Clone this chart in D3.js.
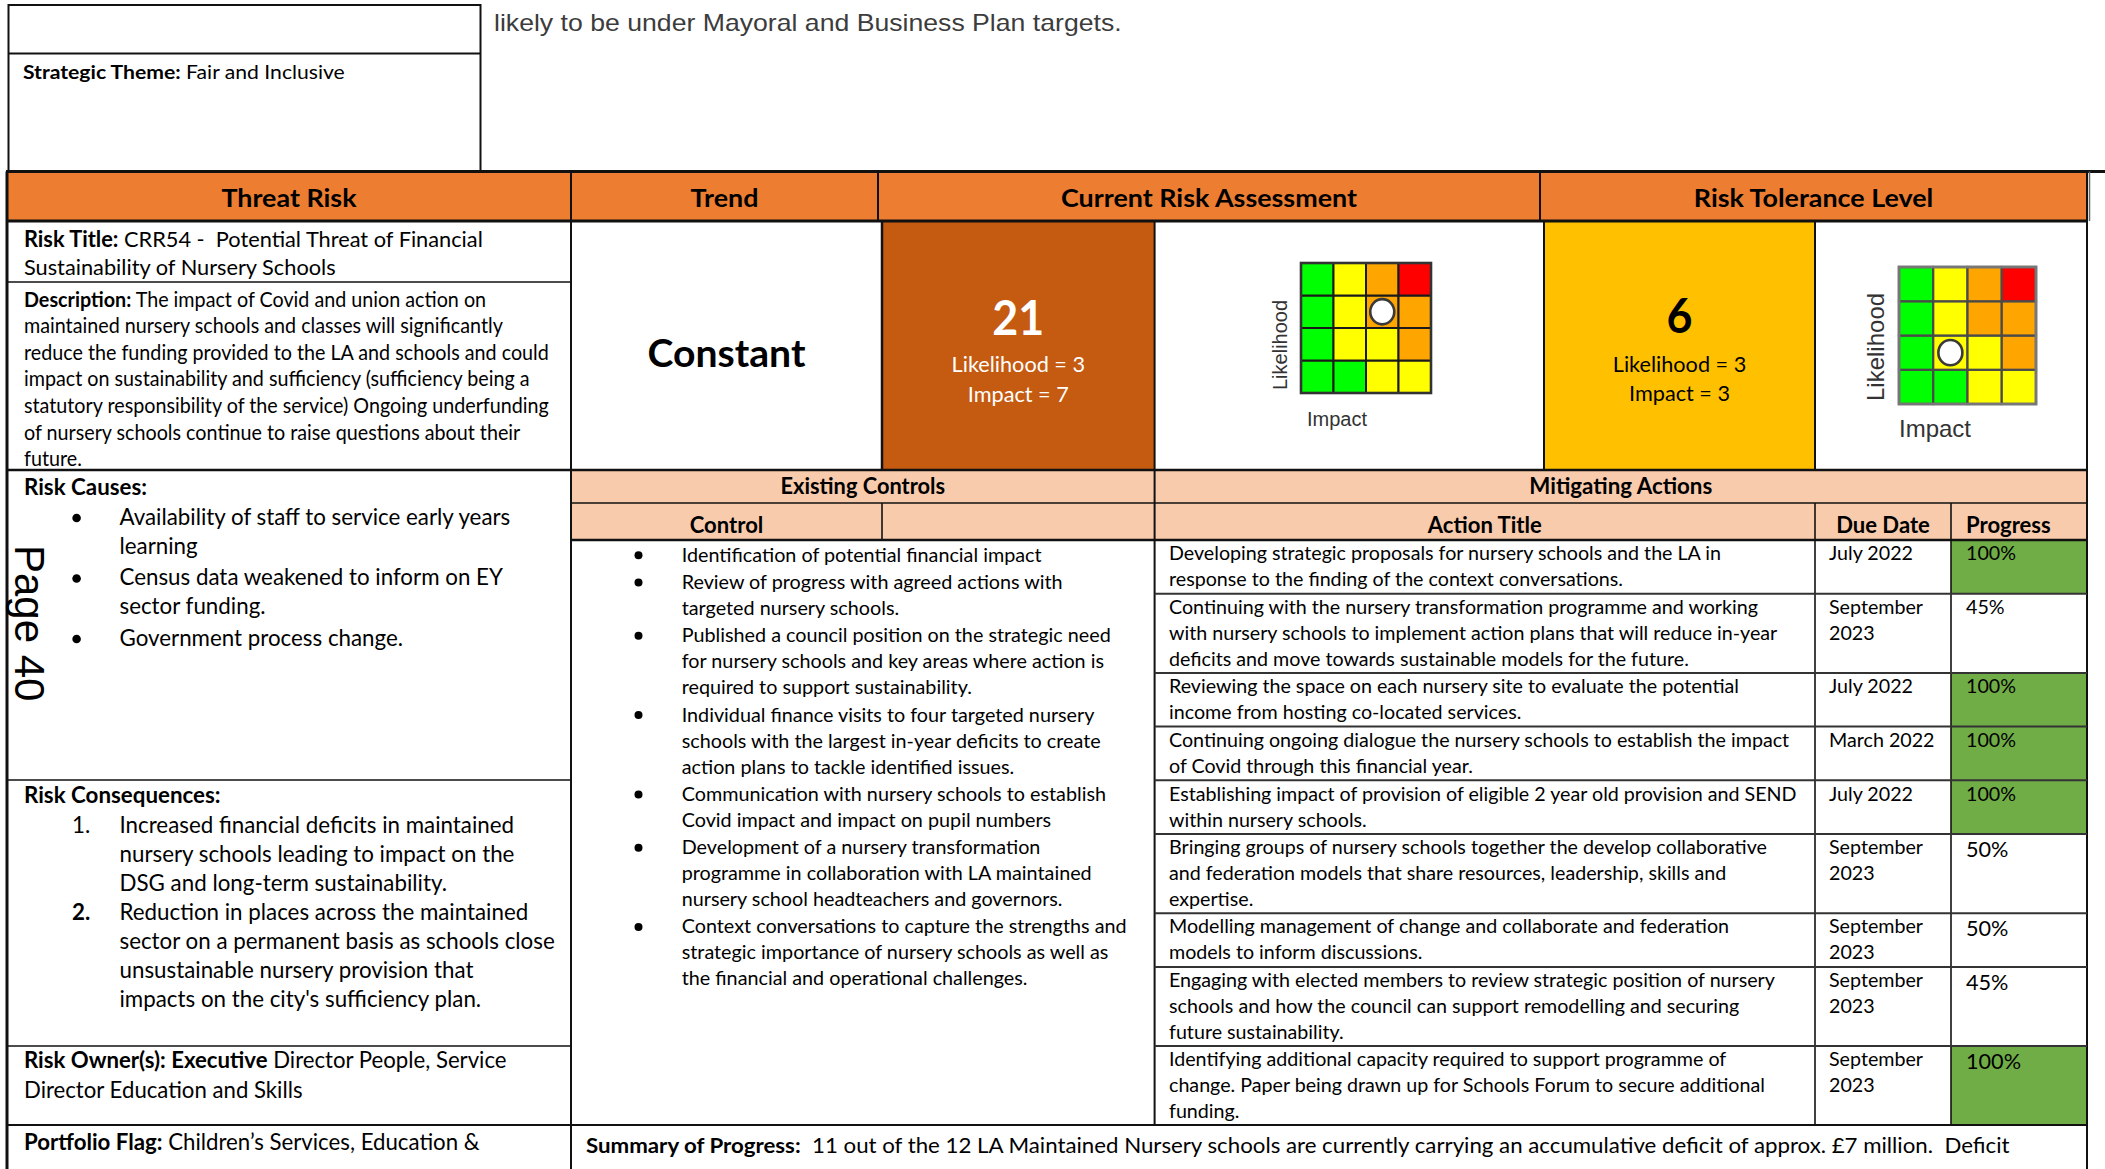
<!DOCTYPE html>
<html><head><meta charset="utf-8">
<script src="https://cdn.jsdelivr.net/npm/d3@7"></script>
<style>
html,body{margin:0;padding:0;background:#fff;}
svg{display:block;}
text{white-space:pre;}
</style></head><body>
<svg id="c" width="2105" height="1169"></svg>
<script>
// ---------------- DATA ----------------
const introText = "likely to be under Mayoral and Business Plan targets.";
const strategicTheme = [["Strategic Theme:", true], [" Fair and Inclusive", false]];
const headers = ["Threat Risk", "Trend", "Current Risk Assessment", "Risk Tolerance Level"];
const riskTitle = [
  [["Risk Title:", true], [" CRR54 -  Potential Threat of Financial", false]],
  "Sustainability of Nursery Schools"
];
const description = [
  [["Description:", true], [" The impact of Covid and union action on", false]],
  "maintained nursery schools and classes will significantly",
  "reduce the funding provided to the LA and schools and could",
  "impact on sustainability and sufficiency (sufficiency being a",
  "statutory responsibility of the service) Ongoing underfunding",
  "of nursery schools continue to raise questions about their",
  "future."
];
const riskCausesTitle = "Risk Causes:";
const riskCauses = [
  ["Availability of staff to service early years", "learning"],
  ["Census data weakened to inform on EY", "sector funding."],
  ["Government process change."]
];
const riskConsequencesTitle = "Risk Consequences:";
const riskConsequences = [
  {n: "1.", bold: false, lines: ["Increased financial deficits in maintained", "nursery schools leading to impact on the", "DSG and long-term sustainability."]},
  {n: "2.", bold: true, lines: ["Reduction in places across the maintained", "sector on a permanent basis as schools close", "unsustainable nursery provision that", "impacts on the city's sufficiency plan."]}
];
const riskOwner = [
  [["Risk Owner(s): Executive", true], [" Director People, Service", false]],
  "Director Education and Skills"
];
const portfolioFlag = [[["Portfolio Flag:", true], [" Children\u2019s Services, Education &", false]]];
const trend = "Constant";
const currentRisk = {score: 21, likelihood: 3, impact: 7, dotImpact: 3, dotLikelihood: 3};
const toleranceRisk = {score: 6, likelihood: 3, impact: 3, dotImpact: 2, dotLikelihood: 2};
const impactLevels = [1, 2, 3, 4];
const likelihoodLevels = [1, 2, 3, 4];
// rows: likelihood 4 (top) .. 1 (bottom); columns: impact 1..4; value = risk band
const riskGrid = [
  [1, 2, 3, 4],
  [1, 2, 3, 3],
  [1, 2, 2, 3],
  [1, 1, 2, 2]
];
const bandColors = ["#00FF00", "#FFFF00", "#FFA500", "#FF0000"];
const controlsTitle = "Existing Controls";
const controlHeader = "Control";
const controls = [
  ["Identification of potential financial impact"],
  ["Review of progress with agreed actions with", "targeted nursery schools."],
  ["Published a council position on the strategic need", "for nursery schools and key areas where action is", "required to support sustainability."],
  ["Individual finance visits to four targeted nursery", "schools with the largest in-year deficits to create", "action plans to tackle identified issues."],
  ["Communication with nursery schools to establish", "Covid impact and impact on pupil numbers"],
  ["Development of a nursery transformation", "programme in collaboration with LA maintained", "nursery school headteachers and governors."],
  ["Context conversations to capture the strengths and", "strategic importance of nursery schools as well as", "the financial and operational challenges."]
];
const actionsTitle = "Mitigating Actions";
const actionHeaders = ["Action Title", "Due Date", "Progress"];
const actionTitles = [
  ["Developing strategic proposals for nursery schools and the LA in", "response to the finding of the context conversations."],
  ["Continuing with the nursery transformation programme and working", "with nursery schools to implement action plans that will reduce in-year", "deficits and move towards sustainable models for the future."],
  ["Reviewing the space on each nursery site to evaluate the potential", "income from hosting co-located services."],
  ["Continuing ongoing dialogue the nursery schools to establish the impact", "of Covid through this financial year."],
  ["Establishing impact of provision of eligible 2 year old provision and SEND", "within nursery schools."],
  ["Bringing groups of nursery schools together the develop collaborative", "and federation models that share resources, leadership, skills and", "expertise."],
  ["Modelling management of change and collaborate and federation", "models to inform discussions."],
  ["Engaging with elected members to review strategic position of nursery", "schools and how the council can support remodelling and securing", "future sustainability."],
  ["Identifying additional capacity required to support programme of", "change. Paper being drawn up for Schools Forum to secure additional", "funding."]
];
const dueDates = [["July 2022"], ["September", "2023"], ["July 2022"], ["March 2022"], ["July 2022"], ["September", "2023"], ["September", "2023"], ["September", "2023"], ["September", "2023"]];
const progressValues = [100, 45, 100, 100, 100, 50, 50, 45, 100];
const summary = [[["Summary of Progress:", true], ["  11 out of the 12 LA Maintained Nursery schools are currently carrying an accumulative deficit of approx. \u00a37 million.  Deficit", false]]];
const pageLabel = "Page 40";

// ---------------- LAYOUT / STYLE ----------------
const FONT = "Lato, 'Open Sans', sans-serif";
const ARIAL = "'Liberation Sans', Arial, sans-serif";
const C = {orange: "#ED7D31", red: "#C55A11", amber: "#FFC000", peach: "#F8CBAD", green: "#70AD47", line: "#111"};
const X = {left: 7, colL: 571, trendR: 878, craR: 1540, right: 2087, box1: 882, ctrlR: 1154.6, box2: 1544, due: 1815, prog: 1951};
const Y = {headTop: 171.5, headBot: 221, title: 282, row2: 470, peachMid: 503, peachBot: 540, cons: 780, owner: 1046, sum: 1125};

const svg = d3.select("#c");
const gB = svg.append("g");
const gM = svg.append("g");
const gL = svg.append("g");
const gT = svg.append("g");

function rect(x, y, w, h, fill) { gB.append("rect").attr("x", x).attr("y", y).attr("width", w).attr("height", h).attr("fill", fill); }
function hl(y, x1, x2, w = 2, c = C.line) { gL.append("line").attr("x1", x1).attr("x2", x2).attr("y1", y).attr("y2", y).attr("stroke", c).attr("stroke-width", w); }
function vl(x, y1, y2, w = 2, c = C.line) { gL.append("line").attr("x1", x).attr("x2", x).attr("y1", y1).attr("y2", y2).attr("stroke", c).attr("stroke-width", w); }
function segs(s) { return typeof s === "string" ? [[s, false]] : s; }

// block of text lines, horizontally fitted to a measured width
function block(cfg) {
  const g = (cfg.parent || gT).append("g");
  const texts = cfg.lines.map((ln, i) => {
    const t = g.append("text")
      .attr("x", Array.isArray(cfg.x) ? cfg.x[i] : cfg.x)
      .attr("y", cfg.baselines[i])
      .attr("text-anchor", cfg.anchor || "start")
      .style("font-family", cfg.family || FONT)
      .style("font-size", cfg.size + "px")
      .style("fill", cfg.fill || "#000");
    segs(ln).forEach(([s, b]) => t.append("tspan").text(s).style("font-weight", b ? 700 : (cfg.weight || 400)));
    return t;
  });
  let sx = cfg.sx;
  if (sx == null && cfg.target) sx = cfg.target / texts[cfg.ref || 0].node().getComputedTextLength();
  const ox = cfg.ox != null ? cfg.ox : (Array.isArray(cfg.x) ? cfg.x[0] : cfg.x);
  if (sx) g.attr("transform", `translate(${ox},0) scale(${sx},1) translate(${-ox},0)`);
  return sx;
}
const seq = (first, step, n) => d3.range(n).map(i => first + i * step);

function draw() {
  // ---- fills ----
  rect(X.left + 1, Y.headTop, X.right - X.left - 1, Y.headBot - Y.headTop, C.orange);
  rect(X.box1, Y.headBot, X.ctrlR - X.box1, Y.row2 - Y.headBot, C.red);
  rect(X.box2, Y.headBot, X.due - X.box2, Y.row2 - Y.headBot, C.amber);
  rect(X.colL, Y.row2, X.right - X.colL, Y.peachBot - Y.row2, C.peach);

  // action rows from line counts
  const rowH = n => 25.5 * n + 2.7;
  const rowTops = [];
  actionTitles.reduce((acc, lines) => { rowTops.push(acc); return acc + rowH(lines.length); }, Y.peachBot);
  progressValues.forEach((p, i) => {
    if (p === 100) rect(X.prog, rowTops[i], X.right - X.prog, rowH(actionTitles[i].length), C.green);
  });

  // ---- matrices ----
  const bandColor = d3.scaleOrdinal().domain([1, 2, 3, 4]).range(bandColors);
  function matrix(cfg, risk) {
    const g = gM.append("g");
    const x = d3.scaleBand().domain(impactLevels).range([cfg.x, cfg.x + cfg.size]);
    const y = d3.scaleBand().domain(likelihoodLevels.slice().reverse()).range([cfg.y, cfg.y + cfg.size]);
    const cells = [];
    likelihoodLevels.forEach(l => impactLevels.forEach(i => cells.push({l, i, band: riskGrid[4 - l][i - 1]})));
    g.selectAll("rect.cell").data(cells).join("rect").attr("class", "cell")
      .attr("x", d => x(d.i)).attr("y", d => y(d.l))
      .attr("width", x.bandwidth()).attr("height", y.bandwidth())
      .attr("fill", d => bandColor(d.band)).attr("stroke", cfg.grid).attr("stroke-width", cfg.gw);
    g.append("rect").attr("x", cfg.x).attr("y", cfg.y).attr("width", cfg.size).attr("height", cfg.size)
      .attr("fill", "none").attr("stroke", cfg.border).attr("stroke-width", cfg.gw + 0.6);
    g.append("ellipse")
      .attr("cx", x(risk.dotImpact) + x.bandwidth() / 2)
      .attr("cy", y(risk.dotLikelihood) + y.bandwidth() / 2)
      .attr("rx", cfg.r).attr("ry", cfg.r * 1.05)
      .attr("fill", "#fff").attr("stroke", "#3a3a3a").attr("stroke-width", 2.6);
    g.append("text").text("Likelihood")
      .attr("transform", `translate(${cfg.likeX},${cfg.y + cfg.size - 3}) rotate(-90)`)
      .style("font-family", ARIAL).style("font-size", cfg.fs + "px").style("fill", "#333");
    g.append("text").text("Impact").attr("x", cfg.impX).attr("y", cfg.impY)
      .style("font-family", ARIAL).style("font-size", cfg.fs + "px").style("fill", "#333");
  }
  matrix({x: 1301, y: 263, size: 130, grid: "#1a1a1a", border: "#333", gw: 2, r: 12, likeX: 1287, impX: 1307, impY: 426, fs: 20}, currentRisk);
  matrix({x: 1899, y: 267, size: 137, grid: "#4a4a4a", border: "#777", gw: 2.2, r: 12, likeX: 1884, impX: 1899, impY: 436.6, fs: 24}, toleranceRisk);

  // ---- lines ----
  vl(8.5, 4, Y.headTop, 2); vl(480.5, 4, Y.headTop, 2);
  hl(5, 8.5, 480.5, 2); hl(53.5, 8.5, 480.5, 2);
  hl(Y.headTop, X.left - 1, 2105, 3);
  [X.colL, X.trendR, X.craR, X.right].forEach(x => vl(x, Y.headTop, Y.headBot, 2));
  vl(2089.5, Y.headTop, Y.headBot, 1.5, "#666");
  hl(Y.headBot, X.left - 1, X.right + 1, 3);
  vl(X.left, Y.headTop, 1169, 3);
  vl(X.colL, Y.headBot, 1169, 2);
  vl(X.box1, Y.headBot, Y.row2, 2.5);
  vl(X.ctrlR, Y.headBot, Y.sum, 2);
  vl(X.box2, Y.headBot, Y.row2, 2);
  vl(X.due, Y.headBot, Y.row2, 2);
  vl(X.right, Y.headBot, 1169, 2);
  hl(Y.title, X.left, X.colL, 1.6);
  hl(Y.row2, X.left, X.right + 1, 2.6);
  hl(Y.peachMid, X.colL, X.right, 1.6);
  vl(X.box1, Y.peachMid, Y.peachBot, 1.6);
  vl(X.due, Y.peachMid, Y.sum, 1.6);
  vl(X.prog, Y.peachMid, Y.sum, 1.6);
  hl(Y.peachBot, X.colL, X.right + 1, 2.6);
  rowTops.slice(1).forEach(y => hl(y, X.ctrlR, X.right, 2, "#333"));
  hl(Y.cons, X.left, X.colL, 1.6);
  hl(Y.owner, X.left, X.colL, 1.6);
  hl(Y.sum, X.left, X.right + 1, 1.8);

  // ---- text ----
  block({lines: [introText], x: 494, baselines: [31.5], size: 23, family: ARIAL, fill: "#3c3c3c", target: 628});
  block({lines: [strategicTheme], x: 23, baselines: [79], size: 19.5, target: 322});

  const headCols = [[X.left, X.colL], [X.colL, X.trendR], [X.trendR, X.craR], [X.craR, X.right]];
  const hsx = block({lines: [headers[2]], x: (headCols[2][0] + headCols[2][1]) / 2, anchor: "middle", baselines: [206.7], size: 25.5, weight: 700, target: 296});
  headers.forEach((h, i) => { if (i !== 2) block({lines: [h], x: (headCols[i][0] + headCols[i][1]) / 2, anchor: "middle", baselines: [206.7], size: 25.5, weight: 700, sx: hsx}); });

  // left column
  block({lines: riskTitle, x: 24, baselines: seq(246.7, 28.3, 2), size: 22, target: 459});
  block({lines: description, x: 24, baselines: seq(306.7, 26.6, description.length), size: 21.5, ref: 2, target: 525});

  const causeLines = [], causeBase = [], causeBullets = [];
  let cb = 525;
  riskCauses.forEach(item => { item.forEach((ln, j) => { if (j === 0) causeBullets.push(cb); causeLines.push(ln); causeBase.push(cb); cb += 29; }); cb += 2.5; });
  const csx = block({lines: causeLines, x: 119.5, baselines: causeBase, size: 22.5, target: 391});
  block({lines: [[[riskCausesTitle, true]]], x: 24, baselines: [495], size: 22.5, sx: csx});
  gT.selectAll("circle.cb").data(causeBullets).join("circle").attr("class", "cb").attr("cx", 76.6).attr("cy", d => d - 7).attr("r", 4.3).attr("fill", "#000");

  const consLines = [], consBase = [], consNums = [];
  let kb = 833;
  riskConsequences.forEach(item => { item.lines.forEach((ln, j) => { if (j === 0) consNums.push({n: item.n, bold: item.bold, y: kb}); consLines.push(ln); consBase.push(kb); kb += 29; }); });
  const ksx = block({lines: consLines, x: 119.5, baselines: consBase, size: 22.5, ref: 4, target: 435.5});
  block({lines: [[[riskConsequencesTitle, true]]], x: 24, baselines: [803], size: 22.5, sx: ksx});
  consNums.forEach(d => block({lines: [[[d.n, d.bold]]], x: 72, baselines: [d.y], size: 22.5, sx: ksx}));

  block({lines: riskOwner, x: 24, baselines: seq(1068.3, 30, 2), size: 22.5, target: 483});
  block({lines: portfolioFlag, x: 24, baselines: [1150], size: 22.5, target: 456});

  // trend & scores
  block({lines: [trend], x: (X.colL + X.box1) / 2, anchor: "middle", baselines: [367.3], size: 39, weight: 700, target: 158});
  const c1 = (X.box1 + X.ctrlR) / 2, c2 = (X.box2 + X.due) / 2;
  const ssx = block({lines: [String(currentRisk.score)], x: c1, anchor: "middle", baselines: [335], size: 47, weight: 700, fill: "#fff", target: 52});
  block({lines: [String(toleranceRisk.score)], x: c2, anchor: "middle", baselines: [333.5], size: 47, weight: 700, fill: "#000", sx: ssx});
  const lsx = block({lines: ["Likelihood = " + currentRisk.likelihood, "Impact = " + currentRisk.impact], x: c1, anchor: "middle", baselines: [372, 401.7], size: 22, fill: "#fff", target: 133.5});
  block({lines: ["Likelihood = " + toleranceRisk.likelihood, "Impact = " + toleranceRisk.impact], x: c2, anchor: "middle", baselines: [371.7, 401], size: 22, fill: "#000", sx: lsx});

  // section headers
  block({lines: [controlsTitle], x: (X.colL + X.ctrlR) / 2, anchor: "middle", baselines: [494.3], size: 22, weight: 700, target: 164.6});
  block({lines: [actionsTitle], x: (X.ctrlR + X.right) / 2, anchor: "middle", baselines: [494], size: 22, weight: 700, target: 183});
  const ahsx = block({lines: [actionHeaders[0]], x: (X.ctrlR + X.due) / 2, anchor: "middle", baselines: [532.7], size: 22, weight: 700, target: 114});
  block({lines: [controlHeader], x: (X.colL + X.box1) / 2, anchor: "middle", baselines: [532.7], size: 22, weight: 700, sx: ahsx});
  block({lines: [actionHeaders[1]], x: (X.due + X.prog) / 2, anchor: "middle", baselines: [532.7], size: 22, weight: 700, sx: ahsx});
  block({lines: [actionHeaders[2]], x: 1966, baselines: [532.7], size: 22, weight: 700, sx: ahsx});

  // controls list
  const ctlLines = [], ctlBase = [], ctlBullets = [];
  let tb = 561.7;
  controls.forEach(item => { item.forEach((ln, j) => { if (j === 0) ctlBullets.push(tb); ctlLines.push(ln); ctlBase.push(tb); tb += 26; }); tb += 1.3; });
  block({lines: ctlLines, x: 681.7, baselines: ctlBase, size: 20, ref: 3, target: 429.4});
  gT.selectAll("circle.tb").data(ctlBullets).join("circle").attr("class", "tb").attr("cx", 638.5).attr("cy", d => d - 6.5).attr("r", 4).attr("fill", "#000");

  // actions
  const aLines = [], aBase = [], dLines = [], dBase = [];
  let refIdx = 0;
  actionTitles.forEach((lines, i) => {
    lines.forEach((ln, j) => {
      if (ln.startsWith("Establishing")) refIdx = aLines.length;
      aLines.push(ln); aBase.push(rowTops[i] + 20.3 + 26 * j);
    });
    dueDates[i].forEach((ln, j) => { dLines.push(ln); dBase.push(rowTops[i] + 20.3 + 26 * j); });
  });
  const asx = block({lines: aLines, x: 1169, baselines: aBase, size: 20, ref: refIdx, target: 628});
  block({lines: dLines, x: 1829, baselines: dBase, size: 20, sx: asx});
  progressValues.forEach((p, i) => {
    const big = i >= 5;
    block({lines: [p + "%"], x: 1966, baselines: [rowTops[i] + 20.3 + (big ? 2.5 : 0)], size: big ? 22 : 20, sx: asx});
  });

  // summary
  block({lines: summary, x: 586, baselines: [1153], size: 21.5, target: 1424});

  // page label
  gT.append("text").text(pageLabel)
    .attr("transform", "translate(15,545) rotate(90)")
    .style("font-family", ARIAL).style("font-size", "42px").style("fill", "#000");
}
(document.fonts && document.fonts.ready ? document.fonts.ready : Promise.resolve()).then(draw);
</script>
</body></html>
